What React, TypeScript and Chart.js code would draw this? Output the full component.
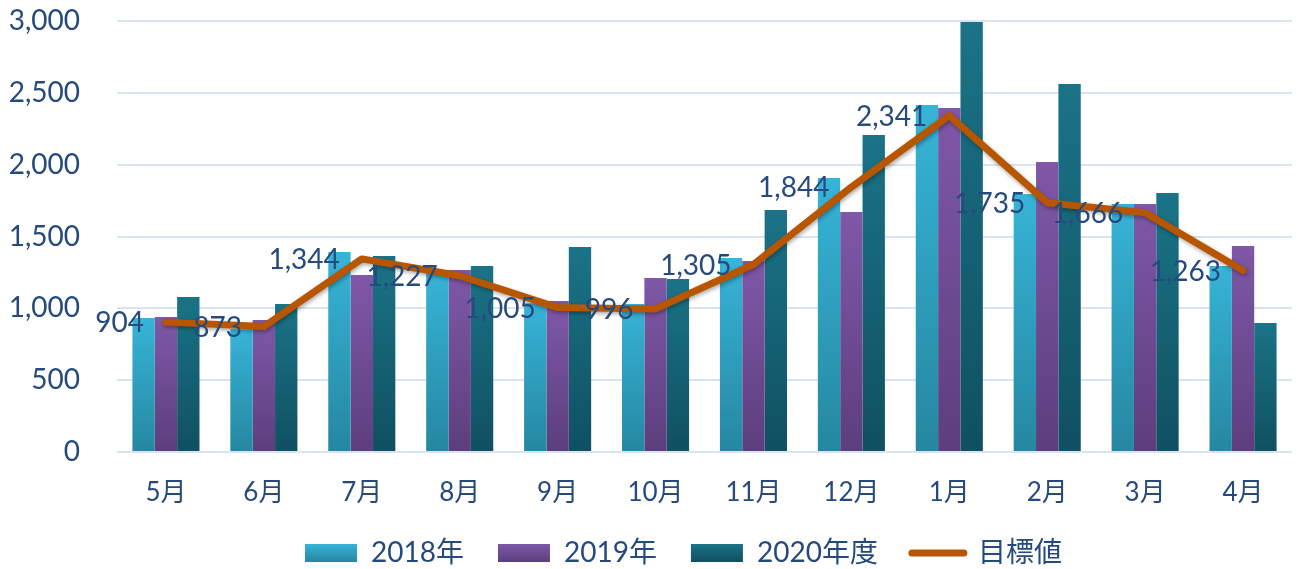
import React, { useEffect, useRef } from "react";
import { Chart, registerables } from "chart.js";

Chart.register(...registerables);

// ---- data ----
const months = ["5月", "6月", "7月", "8月", "9月", "10月", "11月", "12月", "1月", "2月", "3月", "4月"];
const sales2018 = [933, 855, 1392, 1265, 1035, 1030, 1350, 1907, 2415, 1796, 1726, 1295];
const sales2019 = [940, 919, 1232, 1267, 1051, 1211, 1329, 1670, 2394, 2018, 1726, 1434];
const sales2020 = [1079, 1030, 1364, 1295, 1427, 1204, 1684, 2206, 2993, 2561, 1803, 898];
const targets = [904, 873, 1344, 1227, 1005, 996, 1305, 1844, 2341, 1735, 1666, 1263];
const seriesNames = ["2018年", "2019年", "2020年度", "目標値"];
const yMin = 0;
const yMax = 3000;
const yStep = 500;

// ---- styles ----
const FONT = 'Lato, "Noto Sans CJK JP", sans-serif';
const TEXT = "#264A7D";
const GRID = "#D9E4F2";
const LINE = "#B85600";
const grad2018 = ["#37B4D8", "#2587A1"];
const grad2019 = ["#7F58A8", "#5C3E7D"];
const grad2020 = ["#1B7387", "#0F5061"];
const LEGEND_LEFT = 305;
const LEGEND_CY = 553;
const LEGEND_PAD = 34;
const LEGEND_FONT = 28;

function barGradient(colors: string[]) {
  return (ctx: any) => {
    const chart = ctx.chart;
    if (!chart.chartArea || ctx.type !== "data") return colors[0];
    const ys = chart.scales.y;
    const v = ctx.raw as number;
    const y0 = ys.getPixelForValue(v);
    const y1 = ys.getPixelForValue(0);
    if (!isFinite(y0) || !isFinite(y1) || y1 - y0 < 1) return colors[0];
    const g = chart.ctx.createLinearGradient(0, y0, 0, y1);
    g.addColorStop(0, colors[0]);
    g.addColorStop(1, colors[1]);
    return g;
  };
}

const legendPlacer = {
  id: "legendPlacer",
  afterUpdate(chart: any) {
    const lg = chart.legend;
    if (!lg) return;
    const w = lg.right - lg.left;
    lg.left = LEGEND_LEFT - LEGEND_PAD;
    lg.right = lg.left + Math.max(w, 1200);
    lg.top = LEGEND_CY - LEGEND_PAD - LEGEND_FONT / 2;
    lg.bottom = chart.height + 20;
  },
};

const lineShadow = {
  id: "lineShadow",
  beforeDatasetDraw(chart: any, args: any) {
    if (args.index !== 3) return;
    const c = chart.ctx;
    c.save();
    c.shadowColor = "rgba(0,0,0,0.35)";
    c.shadowBlur = 4;
    c.shadowOffsetX = 1;
    c.shadowOffsetY = 2;
  },
  afterDatasetDraw(chart: any, args: any) {
    if (args.index !== 3) return;
    chart.ctx.restore();
  },
};

const targetLabels = {
  id: "targetLabels",
  afterDatasetsDraw(chart: any) {
    const meta = chart.getDatasetMeta(3);
    const data = chart.data.datasets[3].data as number[];
    const c = chart.ctx;
    c.save();
    c.font = `28px ${FONT}`;
    c.fillStyle = TEXT;
    c.textAlign = "right";
    c.textBaseline = "middle";
    meta.data.forEach((pt: any, i: number) => {
      c.fillText(data[i].toLocaleString("en-US"), pt.x - 22, pt.y + 1);
    });
    c.restore();
  },
};

export default function App() {
  const ref = useRef<HTMLCanvasElement | null>(null);

  useEffect(() => {
    if (!ref.current) return;
    const chart = new Chart(ref.current, {
      type: "bar",
      data: {
        labels: months,
        datasets: [
          {
            type: "bar",
            label: seriesNames[0],
            data: sales2018,
            backgroundColor: barGradient(grad2018),
            borderWidth: 0,
            order: 1,
          },
          {
            type: "bar",
            label: seriesNames[1],
            data: sales2019,
            backgroundColor: barGradient(grad2019),
            borderWidth: 0,
            order: 1,
          },
          {
            type: "bar",
            label: seriesNames[2],
            data: sales2020,
            backgroundColor: barGradient(grad2020),
            borderWidth: 0,
            order: 1,
          },
          {
            type: "line",
            label: seriesNames[3],
            data: targets,
            borderColor: LINE,
            backgroundColor: LINE,
            borderWidth: 7,
            pointRadius: 0,
            pointHoverRadius: 0,
            tension: 0,
            borderCapStyle: "round",
            borderJoinStyle: "round",
            order: 0,
          } as any,
        ],
      },
      options: {
        responsive: false,
        animation: false,
        events: [],
        layout: { padding: { top: 21, right: 8, left: 0, bottom: 0 } },
        datasets: {
          bar: { categoryPercentage: 0.685, barPercentage: 1.0 },
        },
        scales: {
          x: {
            grid: { display: false, drawTicks: false },
            border: { display: false },
            ticks: {
              color: TEXT,
              font: { family: FONT, size: 26 },
              padding: 25,
            },
            afterFit: (s: any) => {
              s.height = 60;
            },
          },
          y: {
            min: yMin,
            max: yMax,
            grid: { color: GRID, lineWidth: 2, drawTicks: false },
            border: { display: false },
            ticks: {
              stepSize: yStep,
              color: TEXT,
              font: { family: FONT, size: 28 },
              padding: 37,
              callback: (v: any) => Number(v).toLocaleString("en-US"),
            },
            afterFit: (s: any) => {
              s.width = 117;
              s.paddingTop = 17;
              s.paddingBottom = 17;
            },
          },
        },
        plugins: {
          tooltip: { enabled: false },
          legend: {
            position: "bottom",
            align: "start",
            maxHeight: 57,
            labels: {
              usePointStyle: true,
              pointStyleWidth: 52,
              boxWidth: 52,
              boxHeight: 18,
              padding: LEGEND_PAD,
              color: TEXT,
              font: { family: FONT, size: LEGEND_FONT },
              generateLabels: (ch: any) => {
                const grads = [grad2018, grad2019, grad2020];
                return ch.data.datasets.map((ds: any, i: number) => {
                  if (i === 3) {
                    return {
                      text: ds.label,
                      fillStyle: LINE,
                      strokeStyle: LINE,
                      lineWidth: 7,
                      lineCap: "round",
                      pointStyle: "line",
                      hidden: false,
                      datasetIndex: i,
                      fontColor: TEXT,
                    };
                  }
                  const g = ch.ctx.createLinearGradient(0, LEGEND_CY - 9, 0, LEGEND_CY + 9);
                  g.addColorStop(0, grads[i][0]);
                  g.addColorStop(1, grads[i][1]);
                  return {
                    text: ds.label,
                    fillStyle: g,
                    strokeStyle: "rgba(0,0,0,0)",
                    lineWidth: 0,
                    pointStyle: "rect",
                    hidden: false,
                    datasetIndex: i,
                    fontColor: TEXT,
                  };
                });
              },
            },
          },
        },
      },
      plugins: [legendPlacer, lineShadow, targetLabels],
    } as any);
    return () => chart.destroy();
  }, []);

  return (
    <div
      style={{
        position: "fixed",
        left: 0,
        top: 0,
        width: 1300,
        height: 569,
        background: "#ffffff",
      }}
    >
      <canvas ref={ref} width={1300} height={569} style={{ display: "block" }} />
    </div>
  );
}
